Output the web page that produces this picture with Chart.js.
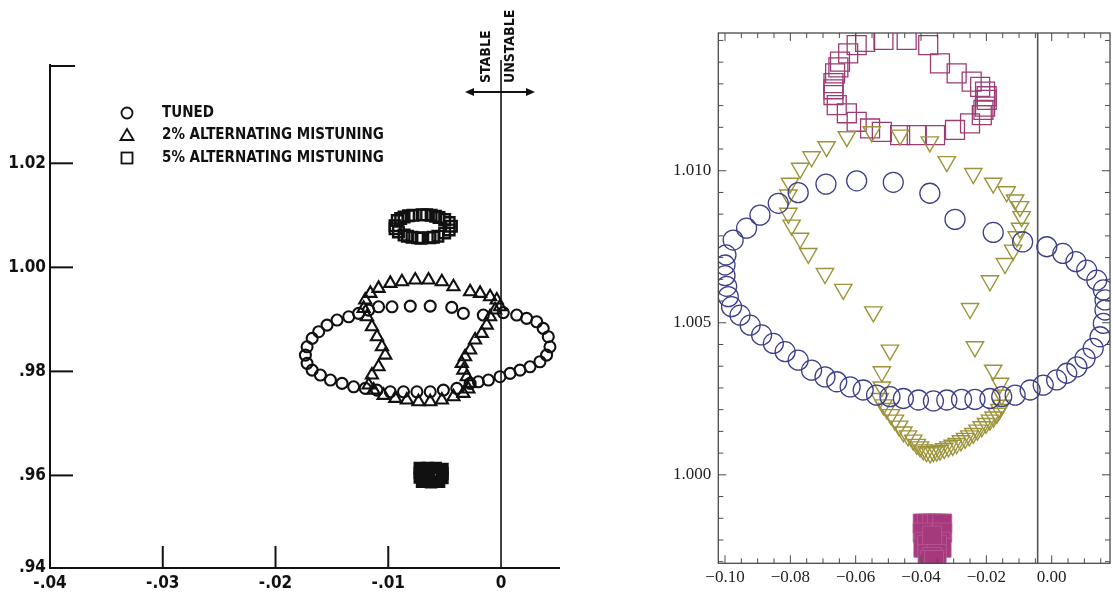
<!DOCTYPE html>
<html>
<head>
<meta charset="utf-8">
<script src="https://cdn.jsdelivr.net/npm/chart.js@4.4.1/dist/chart.umd.min.js"></script>
<style>
body{margin:0;background:#fff;width:1113px;height:595px;overflow:hidden;position:relative}
#left{position:absolute;left:0;top:0}
#right{position:absolute;left:660px;top:0}
</style>
</head>
<body>
<canvas id="left" width="560" height="595"></canvas>
<canvas id="right" width="453" height="595"></canvas>
<script>
// ---- left panel (old scanned plot) ----
var leftXMin=-0.04, leftXMax=0.00523;
var leftYMin=0.9422, leftYMax=1.0389;
var leftXTicks=[-0.04,-0.03,-0.02,-0.01,0];
var leftXLabels=['-.04','-.03','-.02','-.01','0'];
var leftYTicks=[0.9422,0.96,0.98,1.00,1.02];
var leftYLabels=['.94','.96','.98','1.00','1.02'];
var leftLegend=['TUNED','2% ALTERNATING MISTUNING','5% ALTERNATING MISTUNING'];

var leftTuned=[[-0.01086,0.99242],[-0.00967,0.99242],[-0.00805,0.99255],[-0.00628,0.99255],[-0.00437,0.99230],[-0.00334,0.99115],[-0.00157,0.99083],[0.00020,0.99130],[0.00139,0.99083],[0.00227,0.99019],[0.00316,0.98954],[0.00374,0.98826],[0.00419,0.98666],[0.00434,0.98473],[0.00404,0.98313],[0.00345,0.98185],[0.00257,0.98088],[0.00168,0.98025],[0.00080,0.97961],[-0.00009,0.97897],[-0.00112,0.97833],[-0.00201,0.97800],[-0.00274,0.97769],[-0.00392,0.97673],[-0.00511,0.97640],[-0.00628,0.97608],[-0.00746,0.97608],[-0.00865,0.97608],[-0.00982,0.97608],[-0.01100,0.97640],[-0.01204,0.97673],[-0.01307,0.97704],[-0.01410,0.97769],[-0.01513,0.97833],[-0.01602,0.97929],[-0.01675,0.98025],[-0.01720,0.98154],[-0.01735,0.98313],[-0.01720,0.98473],[-0.01675,0.98634],[-0.01617,0.98762],[-0.01543,0.98890],[-0.01454,0.98987],[-0.01351,0.99050],[-0.01263,0.99115],[-0.01174,0.99178]];
var leftMis2=[[-0.01159,0.99500],[-0.01086,0.99596],[-0.00982,0.99692],[-0.00879,0.99723],[-0.00761,0.99756],[-0.00643,0.99756],[-0.00525,0.99723],[-0.00422,0.99627],[-0.00274,0.99531],[-0.00186,0.99500],[-0.00097,0.99435],[-0.00038,0.99371],[-0.00009,0.99242],[-0.00053,0.99179],[-0.00097,0.99050],[-0.00127,0.98890],[-0.00171,0.98731],[-0.00230,0.98602],[-0.00274,0.98410],[-0.00319,0.98281],[-0.00348,0.98154],[-0.00334,0.98025],[-0.00304,0.97896],[-0.00274,0.97769],[-0.00290,0.97660],[-0.00334,0.97577],[-0.00422,0.97512],[-0.00525,0.97450],[-0.00628,0.97417],[-0.00732,0.97417],[-0.00835,0.97450],[-0.00938,0.97481],[-0.01041,0.97538],[-0.01130,0.97640],[-0.01174,0.97737],[-0.01145,0.97929],[-0.01086,0.98088],[-0.01027,0.98313],[-0.01056,0.98473],[-0.01100,0.98666],[-0.01145,0.98858],[-0.01189,0.99050],[-0.01218,0.99210],[-0.01204,0.99371]];
var leftMis5Ring=[[-0.0094,1.0080],[-0.0092,1.0090],[-0.0089,1.0094],[-0.0086,1.0097],[-0.0082,1.0099],[-0.0078,1.0100],[-0.0070,1.0101],[-0.0066,1.0101],[-0.0062,1.0100],[-0.0058,1.0098],[-0.0055,1.0096],[-0.0050,1.0092],[-0.0046,1.0086],[-0.0044,1.0079],[-0.0046,1.0072],[-0.0050,1.0066],[-0.0056,1.0060],[-0.0060,1.0058],[-0.0063,1.0057],[-0.0071,1.0056],[-0.0074,1.0057],[-0.0079,1.0058],[-0.0083,1.0060],[-0.0086,1.0062],[-0.0091,1.0068],[-0.0094,1.0074]];
var leftMis5Blob=[[-0.0072,0.9614],[-0.0065,0.9614],[-0.0058,0.9614],[-0.0052,0.9612],[-0.0072,0.9605],[-0.0052,0.9604],[-0.0072,0.9596],[-0.0052,0.9595],[-0.0070,0.9588],[-0.0062,0.9587],[-0.0055,0.9588],[-0.0064,0.9600]];

// ---- right panel (redrawn plot) ----
var rightXMin=-0.10205, rightXMax=0.01784;
var rightYMin=0.99709, rightYMax=1.01453;
var rightXTicks=[-0.10,-0.08,-0.06,-0.04,-0.02,0];
var rightYTicks=[1.000,1.005,1.010];
var rightStableX=-0.0043;

var rightTuned=[[-0.0980,1.00553],[-0.0990,1.00586],[-0.0995,1.00620],[-0.1000,1.00655],[-0.1000,1.00690],[-0.0997,1.00723],[-0.0975,1.00772],[-0.0934,1.00811],[-0.0893,1.00854],[-0.0837,1.00893],[-0.0776,1.00928],[-0.0691,1.00956],[-0.0597,1.00967],[-0.0485,1.00962],[-0.0373,1.00926],[-0.0296,1.00840],[-0.0179,1.00797],[-0.0089,1.00766],[-0.0015,1.00750],[0.0034,1.00728],[0.0074,1.00701],[0.0107,1.00673],[0.0138,1.00640],[0.0158,1.00608],[0.0163,1.00575],[0.0163,1.00542],[0.0158,1.00498],[0.0148,1.00454],[0.0127,1.00416],[0.0102,1.00383],[0.0077,1.00355],[0.0046,1.00334],[0.0015,1.00312],[-0.0026,1.00295],[-0.0066,1.00279],[-0.0112,1.00262],[-0.0153,1.00257],[-0.0189,1.00251],[-0.0235,1.00248],[-0.0276,1.00248],[-0.0321,1.00246],[-0.0362,1.00243],[-0.0408,1.00246],[-0.0454,1.00251],[-0.0495,1.00257],[-0.0536,1.00262],[-0.0577,1.00279],[-0.0617,1.00289],[-0.0658,1.00306],[-0.0694,1.00322],[-0.0735,1.00344],[-0.0776,1.00377],[-0.0816,1.00405],[-0.0852,1.00432],[-0.0888,1.00460],[-0.0923,1.00492],[-0.0954,1.00525]];
var rightMis2=[[-0.0551,1.01128],[-0.0627,1.01112],[-0.0689,1.01079],[-0.0735,1.01046],[-0.0770,1.01008],[-0.0801,1.00959],[-0.0806,1.00920],[-0.0806,1.00860],[-0.0796,1.00821],[-0.0770,1.00778],[-0.0745,1.00728],[-0.0694,1.00662],[-0.0638,1.00610],[-0.0546,1.00536],[-0.0495,1.00410],[-0.0520,1.00339],[-0.0520,1.00289],[-0.0526,1.00251],[-0.0515,1.00230],[-0.0505,1.00218],[-0.0492,1.00198],[-0.0480,1.00180],[-0.0467,1.00160],[-0.0454,1.00141],[-0.0440,1.00128],[-0.0424,1.00114],[-0.0413,1.00100],[-0.0403,1.00092],[-0.0393,1.00082],[-0.0383,1.00076],[-0.0372,1.00072],[-0.0362,1.00076],[-0.0352,1.00078],[-0.0342,1.00081],[-0.0329,1.00086],[-0.0316,1.00092],[-0.0303,1.00097],[-0.0291,1.00103],[-0.0278,1.00112],[-0.0265,1.00120],[-0.0252,1.00128],[-0.0240,1.00136],[-0.0227,1.00147],[-0.0214,1.00158],[-0.0201,1.00169],[-0.0189,1.00180],[-0.0178,1.00190],[-0.0168,1.00202],[-0.0160,1.00215],[-0.0153,1.00229],[-0.0153,1.00262],[-0.0158,1.00301],[-0.0179,1.00344],[-0.0235,1.00421],[-0.0250,1.00547],[-0.0189,1.00638],[-0.0143,1.00695],[-0.0118,1.00739],[-0.0107,1.00783],[-0.0097,1.00811],[-0.0092,1.00849],[-0.0097,1.00882],[-0.0112,1.00904],[-0.0138,1.00931],[-0.0179,1.00959],[-0.0240,1.00991],[-0.0321,1.01030],[-0.0373,1.01095],[-0.0464,1.01117]];
var rightMis5Ring=[[-0.0571,1.01424],[-0.0515,1.01430],[-0.0444,1.01430],[-0.0378,1.01413],[-0.0342,1.01353],[-0.0291,1.01320],[-0.0245,1.01293],[-0.0219,1.01276],[-0.0204,1.01260],[-0.0199,1.01245],[-0.0199,1.01233],[-0.0204,1.01211],[-0.0209,1.01200],[-0.0214,1.01183],[-0.0250,1.01156],[-0.0296,1.01134],[-0.0357,1.01117],[-0.0413,1.01117],[-0.0464,1.01117],[-0.0520,1.01128],[-0.0556,1.01139],[-0.0597,1.01161],[-0.0627,1.01189],[-0.0658,1.01216],[-0.0668,1.01249],[-0.0668,1.01268],[-0.0668,1.01288],[-0.0663,1.01320],[-0.0653,1.01340],[-0.0648,1.01359],[-0.0623,1.01386],[-0.0597,1.01413]];
var rightMis5Blob=[[-0.0395,0.9984],[-0.0382,0.9984],[-0.0366,0.9984],[-0.0351,0.9984],[-0.0335,0.9984],[-0.0395,0.9981],[-0.0335,0.9981],[-0.0390,0.9978],[-0.0340,0.9978],[-0.0393,0.9976],[-0.0337,0.9976],[-0.0382,0.9977],[-0.0351,0.9977],[-0.0366,0.9980],[-0.0380,0.9974],[-0.0352,0.9974],[-0.0366,0.9973],[-0.0372,0.9972],[-0.0360,0.9972]];

var LF='"Liberation Sans Narrow", "DejaVu Sans Condensed", sans-serif';
var RF='"Liberation Serif", "DejaVu Serif", serif';

function toPts(arr){
	return arr.map(function(p){ return {x:p[0], y:p[1]}; });
}
function makeSet(label, arr, style, radius, color, fill, width, rot){
	return {
		label:label, data:toPts(arr), showLine:false,
		pointStyle:style, pointRadius:radius, pointHoverRadius:radius,
		pointBorderColor:color, pointBackgroundColor:fill,
		pointBorderWidth:width, pointRotation:rot||0,
		borderColor:color, backgroundColor:fill, clip:0
	};
}
function line(ctx,x1,y1,x2,y2){
	ctx.beginPath(); ctx.moveTo(x1,y1); ctx.lineTo(x2,y2); ctx.stroke();
}
function isTick(v, list){
	for(var i=0;i<list.length;i++){ if(Math.abs(v-list[i])<1e-9) return true; }
	return false;
}

var leftDecor={
	id:'leftDecor',
	afterDraw:function(chart){
		var ctx=chart.ctx, a=chart.chartArea, sx=chart.scales.x, sy=chart.scales.y;
		ctx.save();
		ctx.strokeStyle='#111'; ctx.fillStyle='#111'; ctx.lineWidth=2;
		// inward ticks
		[0.96,0.98,1.00,1.02].forEach(function(v){
			var p=sy.getPixelForValue(v);
			line(ctx,a.left,p,a.left+23,p);
		});
		line(ctx,a.left,a.top+1,a.left+25,a.top+1);
		[-0.03,-0.02,-0.01].forEach(function(v){
			var p=sx.getPixelForValue(v);
			line(ctx,p,a.bottom,p,a.bottom-22);
		});
		// stable / unstable boundary
		var x0=sx.getPixelForValue(0);
		ctx.lineWidth=1.6;
		line(ctx,x0,a.bottom,x0,60);
		ctx.lineWidth=1.8;
		line(ctx,x0-33,92,x0+31,92);
		ctx.beginPath(); ctx.moveTo(x0-36,92); ctx.lineTo(x0-27,88); ctx.lineTo(x0-27,96); ctx.closePath(); ctx.fill();
		ctx.beginPath(); ctx.moveTo(x0+34,92); ctx.lineTo(x0+25,88); ctx.lineTo(x0+25,96); ctx.closePath(); ctx.fill();
		ctx.font='bold 14px '+LF;
		ctx.textBaseline='middle'; ctx.textAlign='left';
		ctx.save(); ctx.translate(x0-15,83); ctx.rotate(-Math.PI/2); ctx.fillText('STABLE',0,0); ctx.restore();
		ctx.save(); ctx.translate(x0+9,83); ctx.rotate(-Math.PI/2); ctx.fillText('UNSTABLE',0,0); ctx.restore();
		// legend
		ctx.lineWidth=1.8;
		ctx.beginPath(); ctx.arc(127,113,5.5,0,Math.PI*2); ctx.stroke();
		ctx.beginPath(); ctx.moveTo(127,129); ctx.lineTo(133.5,140); ctx.lineTo(120.5,140); ctx.closePath(); ctx.stroke();
		ctx.strokeRect(121.5,152.5,11,11);
		ctx.font='bold 15px '+LF;
		ctx.fillText(leftLegend[0],162,113);
		ctx.fillText(leftLegend[1],162,135);
		ctx.fillText(leftLegend[2],162,158);
		ctx.restore();
	}
};

var rightDecor={
	id:'rightDecor',
	beforeDatasetsDraw:function(chart){
		var ctx=chart.ctx, a=chart.chartArea, sx=chart.scales.x;
		var p=sx.getPixelForValue(rightStableX);
		ctx.save();
		ctx.strokeStyle='#555'; ctx.lineWidth=1.6;
		line(ctx,p,a.top,p,a.bottom);
		ctx.restore();
	},
	afterDraw:function(chart){
		var ctx=chart.ctx, a=chart.chartArea, sx=chart.scales.x, sy=chart.scales.y;
		ctx.save();
		ctx.strokeStyle='#4a4a4a'; ctx.lineWidth=1.3;
		ctx.strokeRect(a.left,a.top,a.right-a.left,a.bottom-a.top);
		ctx.lineWidth=1;
		for(var k=-20;k<=3;k++){
			var v=k*0.005, p=sx.getPixelForValue(v);
			if(p<a.left||p>a.right) continue;
			var len=isTick(v,rightXTicks)?8:5;
			line(ctx,p,a.bottom,p,a.bottom-len);
			line(ctx,p,a.top,p,a.top+len);
		}
		for(var j=-4;j<=20;j++){
			var w=1.000+j*0.005/7, q=sy.getPixelForValue(w);
			if(q<a.top||q>a.bottom) continue;
			var l2=(j%7===0)?8:5;
			line(ctx,a.left,q,a.left+l2,q);
			line(ctx,a.right,q,a.right-l2,q);
		}
		ctx.restore();
	}
};

new Chart(document.getElementById('left'),{
	type:'scatter',
	data:{datasets:[
		makeSet(leftLegend[0], leftTuned, 'circle', 5.5, '#111', 'rgba(0,0,0,0)', 2.1),
		makeSet(leftLegend[1], leftMis2, 'triangle', 7, '#111', 'rgba(0,0,0,0)', 2.1),
		makeSet(leftLegend[2], leftMis5Ring, 'rect', 7.5, '#111', 'rgba(0,0,0,0)', 2.4),
		makeSet(leftLegend[2], leftMis5Blob, 'rect', 7.5, '#111', '#111', 2)
	]},
	options:{
		responsive:false, animation:false, events:[],
		layout:{autoPadding:false, padding:{top:65,left:0,right:0,bottom:0}},
		plugins:{legend:{display:false}, tooltip:{enabled:false}},
		scales:{
			x:{type:'linear', min:leftXMin, max:leftXMax,
				afterBuildTicks:function(s){ s.ticks=leftXTicks.map(function(v){return {value:v};}); },
				afterFit:function(s){ s.height=27; },
				grid:{display:false, drawTicks:false},
				border:{display:true, color:'#111', width:2},
				ticks:{autoSkip:false, maxRotation:0, padding:5, color:'#111',
					font:{family:LF, size:17, weight:'bold'},
					callback:function(v){ return leftXLabels[leftXTicks.indexOf(v)]; }}
			},
			y:{type:'linear', min:leftYMin, max:leftYMax,
				afterBuildTicks:function(s){ s.ticks=leftYTicks.map(function(v){return {value:v};}); },
				afterFit:function(s){ s.width=50; },
				grid:{display:false, drawTicks:false},
				border:{display:true, color:'#111', width:2},
				ticks:{autoSkip:false, padding:4, color:'#111',
					font:{family:LF, size:17, weight:'bold'},
					callback:function(v){ return leftYLabels[leftYTicks.indexOf(v)]; }}
			}
		}
	},
	plugins:[leftDecor]
});

new Chart(document.getElementById('right'),{
	type:'scatter',
	data:{datasets:[
		makeSet('Tuned', rightTuned, 'circle', 10, '#3d4089', 'rgba(0,0,0,0)', 1.3),
		makeSet('2% mistuning', rightMis2, 'triangle', 10, '#9c943a', 'rgba(0,0,0,0)', 1.4, 180),
		makeSet('5% mistuning', rightMis5Ring, 'rect', 13.4, '#9c3c74', 'rgba(0,0,0,0)', 1.3),
		makeSet('5% mistuning', rightMis5Blob, 'rect', 13.4, '#b55a94', '#a6387c', 0.8)
	]},
	options:{
		responsive:false, animation:false, events:[],
		layout:{autoPadding:false, padding:{top:33,left:0,right:3,bottom:0}},
		plugins:{legend:{display:false}, tooltip:{enabled:false}},
		scales:{
			x:{type:'linear', min:rightXMin, max:rightXMax,
				afterBuildTicks:function(s){ s.ticks=rightXTicks.map(function(v){return {value:v};}); },
				afterFit:function(s){ s.height=31.7; },
				grid:{display:false, drawTicks:false},
				border:{display:false},
				ticks:{autoSkip:false, maxRotation:0, padding:4, color:'#222',
					font:{family:RF, size:17},
					callback:function(v){ return (v<0?'\u2212':'')+Math.abs(v).toFixed(2); }}
			},
			y:{type:'linear', min:rightYMin, max:rightYMax,
				afterBuildTicks:function(s){ s.ticks=rightYTicks.map(function(v){return {value:v};}); },
				afterFit:function(s){ s.width=58.3; },
				grid:{display:false, drawTicks:false},
				border:{display:false},
				ticks:{autoSkip:false, padding:7, color:'#222',
					font:{family:RF, size:17},
					callback:function(v){ return v.toFixed(3); }}
			}
		}
	},
	plugins:[rightDecor]
});
</script>
</body>
</html>
